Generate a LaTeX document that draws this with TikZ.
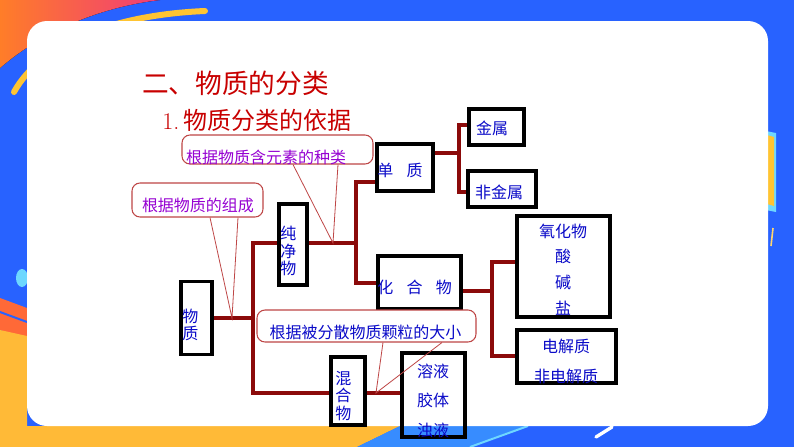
\documentclass[tikz,border=0pt]{standalone}
\usepackage{fontspec}
\newfontfamily\cjk{Noto Sans CJK SC}
\definecolor{bgblue}{RGB}{40,98,255}
\definecolor{corange}{RGB}{255,125,40}
\definecolor{cpink}{RGB}{240,60,120}
\definecolor{cyellow}{RGB}{255,196,50}
\definecolor{cyellowb}{RGB}{255,186,55}
\definecolor{corangeb}{RGB}{255,105,55}
\definecolor{ccyan}{RGB}{110,215,255}
\definecolor{lightblue}{RGB}{55,140,255}
\definecolor{linkred}{RGB}{139,10,10}
\definecolor{tblue}{RGB}{10,10,200}
\definecolor{cpurple}{RGB}{150,0,210}
\definecolor{callred}{RGB}{190,70,70}
\definecolor{titlered}{RGB}{200,0,0}
\tikzset{
  box/.style={draw=black, line width=2.6pt, inner sep=0pt},
  wh/.style 2 args={minimum width=#1*0.75pt, minimum height=#2*0.75pt},
  bt/.style={text=tblue, font=\cjk\fontsize{12}{13}\selectfont, inner sep=0pt},
  link/.style={draw=linkred, line width=2.4pt},
  callout/.style={draw=callred, line width=0.8pt, rounded corners=6pt, inner sep=0pt, fill=white},
  ptr/.style={draw=callred, line width=0.6pt},
}
\begin{document}
\begin{tikzpicture}[x=0.75pt,y=-0.75pt]
\useasboundingbox (0,0) rectangle (794,447);
% background
\fill[bgblue] (0,0) rectangle (794,447);
\fill[left color=corange, right color=cpink] (0,0) -- (160,0) .. controls (110,6) and (50,25) .. (0,68) -- cycle;
\draw[cyellow, line width=4.5pt, line cap=round] (14,92) .. controls (40,45) and (110,15) .. (205,11);
\fill[ccyan] (22,278) ellipse [x radius=6, y radius=9];
\fill[corangeb] (0,298) -- (27,308) -- (27,340) -- (0,330) -- cycle;
\draw[bgblue, line width=1.5pt] (0,312) -- (27,322);
\fill[cyellowb] (0,330) -- (27,336) -- (27,426) -- (400,426) -- (357,447) -- (0,447) -- cycle;
\fill[lightblue] (400,426) -- (525,426) -- (470,447) -- (357,447) -- cycle;
\draw[ccyan, line width=1.5pt] (470,447) -- (528,426);
\draw[white, line width=2.5pt, line cap=round] (596,437) -- (612,427);
\fill[ccyan] (766,131) -- (776,133) -- (776,212) -- (766,210) -- cycle;
\fill[cyellow] (767,135) -- (774,137) -- (774,206) -- (767,204) -- cycle;
\draw[cyellow!70, line width=1.2pt] (773,228) -- (771,246);
\fill[white, rounded corners=15pt] (27,21) rectangle (768,426);

% titles
\node[anchor=west, inner sep=0pt, text=titlered, font=\cjk\fontsize{20}{22}\selectfont] (title) at (142,83) {二、物质的分类};
\node[anchor=west, inner sep=0pt, text=titlered, font=\fontsize{18}{20}\selectfont] (sub) at (162,120) {1.\,{\cjk 物质分类的依据}};

% junction coordinates
\coordinate (ja) at (253,243);
\coordinate (jb) at (253,393);
\coordinate (jc) at (356,182);
\coordinate (jd) at (356,283);
\coordinate (je) at (459,153);
\coordinate (jf) at (459,125);
\coordinate (jg) at (459,192);
\coordinate (jh) at (492,291);
\coordinate (ji) at (492,262);
\coordinate (jj) at (492,356);

% boxes
\node[box, wh={31}{73}] (wz) at (196.5,318) {};
\node[box, wh={28}{81}] (cjw) at (293,244.5) {};
\node[box, wh={34}{68}] (hh) at (348,391) {};
\node[box, wh={56}{47}] (dz) at (405,167.5) {};
\node[box, wh={83}{53}] (hhw) at (419.5,282.5) {};
\node[box, wh={55}{36}] (js) at (496.5,127) {};
\node[box, wh={68}{36}] (fjs) at (502,189) {};
\node[box, wh={93}{101}] (yhw) at (563.5,266.5) {};
\node[box, wh={99}{53}] (djz) at (566.5,356.5) {};
\node[box, wh={63}{84}] (ry) at (433.5,395) {};

% box texts
\node[bt, anchor=west, align=left] (wzt) at (182,325) {物\\质};
\node[bt, anchor=west, align=left] (cjwt) at (280,251) {纯\\净\\物};
\node[bt, anchor=west, align=left] (hht) at (335,396) {混\\合\\物};
\node[bt, anchor=west] (dzt) at (377,170) {单\hspace{10pt}质};
\node[bt, anchor=west] (hhwt) at (377,287) {化\hspace{10pt}合\hspace{10pt}物};
\node[bt] (jst) at (492,128) {金属};
\node[bt] (fjst) at (499,192) {非金属};
\node[bt, align=center, font=\cjk\fontsize{12}{19.3}\selectfont] (yhwt) at (563,269.5) {氧化物\\酸\\碱\\盐};
\node[bt, align=center, font=\cjk\fontsize{12}{22}\selectfont] (djzt) at (566,361.5) {电解质\\非电解质};
\node[bt, align=center, font=\cjk\fontsize{12}{22.1}\selectfont] (ryt) at (433,400.5) {溶液\\胶体\\浊液};

% connectors
\draw[link] (wz.east) -- (wz.east -| ja);
\draw[link] (cjw.west |- ja) -- (ja) -- (jb) -- (hh.west |- jb);
\draw[link] (cjw.east |- ja) -- (ja -| jc);
\draw[link] (dz.west |- jc) -- (jc) -- (jd) -- (hhw.west |- jd);
\draw[link] (dz.east |- je) -- (je);
\draw[link] (js.west |- jf) -- (jf) -- (jg) -- (fjs.west |- jg);
\draw[link] (hhw.east |- jh) -- (jh);
\draw[link] (yhw.west |- ji) -- (ji) -- (jj) -- (djz.west |- jj);
\draw[link] (hh.east |- jb) -- (ry.west |- jb);

% callouts
\node[callout, wh={191}{29}] (co1) at (277.5,149.5) {};
\node[inner sep=0pt, text=cpurple, font=\cjk\fontsize{12}{13}\selectfont] (co1t) at (266,157) {根据物质含元素的种类};
\coordinate (a1) at (293,164.5);
\coordinate (b1) at (338,164.5);
\coordinate (p1) at (333,243);
\draw[ptr] (a1) -- (p1) -- (b1);

\node[callout, wh={131}{34}] (co2) at (197.5,200) {};
\node[inner sep=0pt, text=cpurple, font=\cjk\fontsize{12}{13}\selectfont] (co2t) at (198,205) {根据物质的组成};
\coordinate (a2) at (210,217.5);
\coordinate (b2) at (238,217.5);
\coordinate (p2) at (232,318);
\draw[ptr] (a2) -- (p2) -- (b2);

\node[callout, wh={219}{32}] (co3) at (366.5,326) {};
\node[inner sep=0pt, text=tblue, font=\cjk\fontsize{12}{13}\selectfont] (co3t) at (365.5,332) {根据被分散物质颗粒的大小};
\coordinate (a3) at (383,342.5);
\coordinate (b3) at (442,342.5);
\coordinate (p3) at (376,393);
\draw[ptr] (a3) -- (p3) -- (b3);
\end{tikzpicture}
\end{document}
